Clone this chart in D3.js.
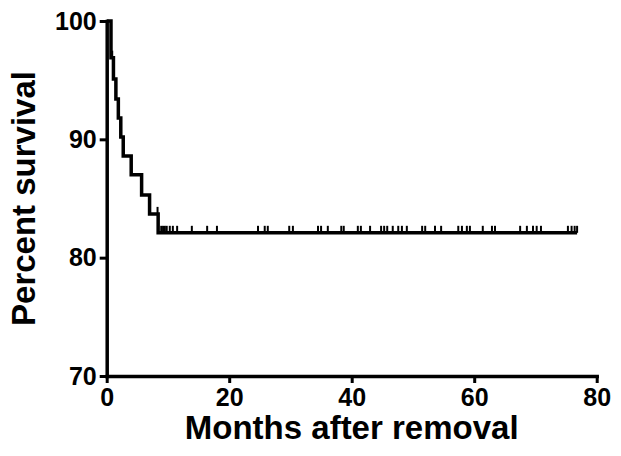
<!DOCTYPE html>
<html>
<head>
<meta charset="utf-8">
<script src="https://cdn.jsdelivr.net/npm/d3@7"></script>
<style>
  body { margin: 0; background: #fff; }
  text { font-family: "Liberation Sans", Arial, sans-serif; font-weight: bold; fill: #000; }
</style>
</head>
<body>
<div id="chart"></div>
<script>
// step points of the survival curve (months, percent)
let stepTimes = [0, 0.7, 1.1, 1.5, 1.9, 2.3, 2.7, 4.0, 5.7, 7.0, 8.4];
let survival = [100, 96.9, 95.1, 93.4, 91.8, 90.2, 88.6, 87.0, 85.3, 83.7, 82.1];
let endTime = 76.8;

// censored observations (months)
let censorTimes = [0.9, 8.3, 8.9, 9.2, 9.5, 9.8, 10.3, 10.8, 11.5, 13.9, 16.4, 18.0,
    24.7, 25.8, 26.3, 29.8, 30.4, 34.5, 35.0, 36.1, 38.3, 38.7, 41.0, 41.5, 43.0,
    44.8, 45.3, 45.8, 46.7, 47.6, 48.2, 49.0, 51.5, 52.0, 53.6, 54.6, 57.4, 58.0,
    58.8, 59.3, 61.4, 62.9, 63.4, 67.5, 68.6, 69.6, 70.2, 70.9, 75.3, 75.9, 76.4, 76.8];

let xTicks = [0, 20, 40, 60, 80];
let yTicks = [70, 80, 90, 100];

let svgWidth = 621;
let svgHeight = 456;

let svg = d3.select("#chart")
    .append("svg")
    .attr("width", svgWidth)
    .attr("height", svgHeight);

let xScale = d3.scaleLinear().domain([0, 80]).range([106.7, 596.7]);
let yScale = d3.scaleLinear().domain([70, 100]).range([376, 21]);

// axes
let xAxis = svg.append("g")
    .attr("transform", `translate(0, ${yScale(70)})`)
    .call(d3.axisBottom(xScale).tickValues(xTicks).tickSize(7).tickSizeOuter(0).tickPadding(5));

let yAxis = svg.append("g")
    .attr("transform", `translate(${xScale(0)}, 0)`)
    .call(d3.axisLeft(yScale).tickValues(yTicks).tickSize(7).tickSizeOuter(0).tickPadding(3));

[xAxis, yAxis].forEach(function(ax) {
    ax.select(".domain").attr("stroke", "#000").attr("stroke-width", 3.5).attr("stroke-linecap", "square");
    ax.selectAll(".tick line").attr("stroke", "#000").attr("stroke-width", 3);
    ax.selectAll(".tick text")
        .style("font-size", "25px")
        .style("font-family", "'Liberation Sans', Arial, sans-serif")
        .style("font-weight", "bold")
        .attr("fill", "#000");
});

// survival step line
let curvePoints = stepTimes.map((t, i) => [t, survival[i]]);
curvePoints.push([endTime, survival[survival.length - 1]]);

let line = d3.line()
    .x(d => xScale(d[0]))
    .y(d => yScale(d[1]))
    .curve(d3.curveStepAfter);

svg.append("path")
    .datum(curvePoints)
    .attr("fill", "none")
    .attr("stroke", "#000")
    .attr("stroke-width", 3.5)
    .attr("stroke-linejoin", "miter")
    .attr("d", line);

// survival level at a given time
function survivalAt(t) {
    let s = survival[0];
    stepTimes.forEach(function(st, i) {
        if (st <= t) s = survival[i];
    });
    return s;
}

svg.selectAll(".censor")
    .data(censorTimes)
    .enter()
    .append("line")
    .attr("class", "censor")
    .attr("x1", d => xScale(d))
    .attr("x2", d => xScale(d))
    .attr("y1", d => yScale(survivalAt(d)))
    .attr("y2", d => yScale(survivalAt(d)) - 7)
    .attr("stroke", "#000")
    .attr("stroke-width", 2);

// axis titles
svg.append("text")
    .attr("x", (xScale(0) + xScale(80)) / 2)
    .attr("y", 439)
    .attr("text-anchor", "middle")
    .style("font-size", "33px")
    .text("Months after removal");

svg.append("text")
    .attr("transform", `translate(35, ${(yScale(70) + yScale(100)) / 2}) rotate(-90)`)
    .attr("text-anchor", "middle")
    .style("font-size", "33px")
    .text("Percent survival");
</script>
</body>
</html>
